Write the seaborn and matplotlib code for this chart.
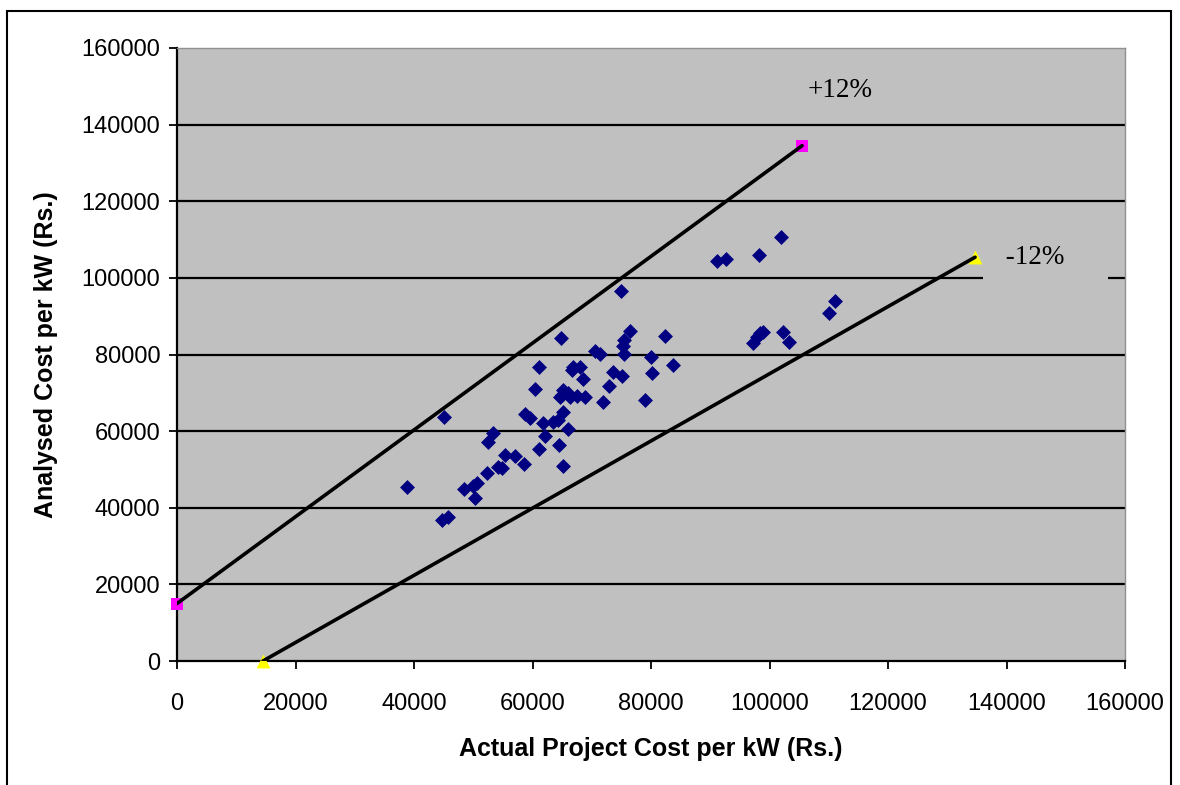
import matplotlib
matplotlib.use("Agg")
import matplotlib.pyplot as plt
import seaborn as sns
import pandas as pd
from matplotlib.patches import Rectangle

# ---- data ----
actual_cost = [38800, 44700, 45700, 45100, 48400, 50000, 50600, 50300, 52300, 52500,
               53300, 54200, 54900, 55300, 57100, 58500, 58700, 59500, 60400, 61100,
               61100, 61800, 62100, 63500, 64300, 64500, 64800, 65100, 65100, 65100,
               65000, 64600, 66000, 66300, 66000, 66800, 66700, 67500, 68000, 68500,
               68900, 70500, 71400, 71900, 72900, 73600, 74900, 75100, 75400, 75300,
               75400, 76400, 79000, 80000, 80100, 82300, 83700, 91100, 92600, 98200,
               101900, 97200, 97900, 98400, 98900, 102300, 103300, 110000, 111000]
analysed_cost = [45400, 36800, 37500, 63700, 44900, 45700, 46500, 42600, 49100, 57200,
                 59500, 50600, 50400, 53800, 53500, 51400, 64400, 63500, 71000, 76700,
                 55300, 62100, 58600, 62400, 62900, 56400, 84400, 65000, 50900, 70700,
                 69400, 68900, 70000, 68900, 60600, 76700, 76000, 69200, 76700, 73600,
                 68900, 80900, 80200, 67600, 71800, 75400, 96500, 74400, 83800, 82200,
                 80200, 86100, 68100, 79300, 75200, 84700, 77300, 104400, 104900, 106000,
                 110600, 83000, 84600, 85600, 86000, 85900, 83300, 90800, 94000]

upper_x = [0, 105500]
upper_y = [15000, 134500]
lower_x = [14500, 134700]
lower_y = [0, 105400]

x_ticks = [0, 20000, 40000, 60000, 80000, 100000, 120000, 140000, 160000]
y_ticks = [0, 20000, 40000, 60000, 80000, 100000, 120000, 140000, 160000]

x_label = "Actual Project Cost per kW (Rs.)"
y_label = "Analysed Cost per kW (Rs.)"
upper_text = "+12%"
lower_text = "-12%"

# ---- plot ----
sns.set_theme(style="white")
plt.rcParams['font.family'] = ['Liberation Sans', 'DejaVu Sans']

fig = plt.figure(figsize=(11.8, 7.85), dpi=100)
ax = fig.add_axes([177/1180, 1-661/785, (1125-177)/1180, (661-48)/785])
ax.set_facecolor('#c0c0c0')

# outer border
fig.patches.append(Rectangle((0.006, -0.02), 0.986, 1.006, transform=fig.transFigure,
                             fill=False, edgecolor='black', linewidth=1.5))

# grid lines
for yv in y_ticks[1:-1]:
    ax.axhline(yv, color='black', linewidth=1.6, zorder=1)

df = pd.DataFrame({"actual": actual_cost, "analysed": analysed_cost})
sns.scatterplot(data=df, x="actual", y="analysed", marker='D', s=58, color='#000080',
                linewidth=0, ax=ax, zorder=3)

# bound markers
sns.scatterplot(x=upper_x, y=upper_y, marker='s', s=75, color='#ff00ff', linewidth=0,
                ax=ax, zorder=4, clip_on=False)
sns.scatterplot(x=lower_x, y=lower_y, marker='^', s=100, color='#ffff00', linewidth=0,
                ax=ax, zorder=4, clip_on=False)
# bound lines
sns.lineplot(x=upper_x, y=upper_y, color='black', linewidth=2.6, ax=ax, zorder=5,
             sort=False, estimator=None)
sns.lineplot(x=lower_x, y=lower_y, color='black', linewidth=2.6, ax=ax, zorder=5,
             sort=False, estimator=None)

ax.text(106500, 148800, upper_text, fontsize=19.5, family=['Liberation Serif', 'DejaVu Serif'],
        va='center', ha='left', color='black', zorder=6)
ax.text(138800, 105400, " " + lower_text + "    ", fontsize=19.5,
        family=['Liberation Serif', 'DejaVu Serif'], va='center', ha='left', color='black',
        zorder=6, bbox=dict(boxstyle='square,pad=0.6', facecolor='#c0c0c0', edgecolor='none'))

ax.set_xlim(0, 160000)
ax.set_ylim(0, 160000)
ax.set_xticks(x_ticks)
ax.set_yticks(y_ticks)
ax.set_xticklabels([str(v) for v in x_ticks])
ax.set_yticklabels([str(v) for v in y_ticks])
ax.tick_params(axis='both', direction='out', length=6, width=1.3, color='black',
               labelsize=17, labelcolor='black')
ax.tick_params(axis='x', pad=17)
ax.tick_params(axis='y', pad=6)
ax.tick_params(bottom=True, left=True)

for side in ['left', 'bottom']:
    ax.spines[side].set_color('black')
    ax.spines[side].set_linewidth(1.6)
for side in ['top', 'right']:
    ax.spines[side].set_color('#909090')
    ax.spines[side].set_linewidth(1.0)

ax.set_xlabel(x_label, fontsize=18, fontweight='bold', labelpad=16, color='black')
ax.set_ylabel(y_label, fontsize=18, fontweight='bold', labelpad=17, color='black')

fig.savefig("out.png", dpi=100)
